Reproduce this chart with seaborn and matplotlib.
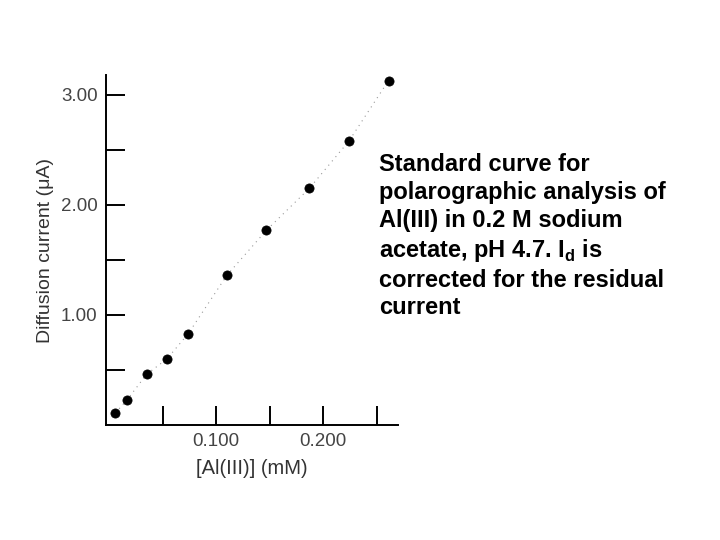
"""
plot.py — standard curve for polarographic analysis of Al(III).
"""
import matplotlib
matplotlib.use("Agg")
import matplotlib.pyplot as plt
import pandas as pd
import seaborn as sns

# Data
conc_mM = [0.006, 0.017, 0.035, 0.054, 0.074, 0.110, 0.147, 0.187, 0.224, 0.261]
current_uA = [0.11, 0.23, 0.46, 0.60, 0.83, 1.36, 1.77, 2.15, 2.58, 3.13]

x_ticks = [0.05, 0.10, 0.15, 0.20, 0.25]
x_tick_labels = ["", "0.100", "", "0.200", ""]
y_ticks = [0.5, 1.0, 1.5, 2.0, 2.5, 3.0]
y_tick_labels = ["", "1.00", "", "2.00", "", "3.00"]

caption = ("Standard curve for\n"
           "polarographic analysis of\n"
           "Al(III) in 0.2 M sodium\n"
           "acetate, pH 4.7. I$_\\mathregular{d}$ is\n"
           "corrected for the residual\n"
           "current")

df = pd.DataFrame({"conc": conc_mM, "current": current_uA})

sns.set_style("ticks")
plt.rcParams["font.family"] = ["Liberation Sans", "DejaVu Sans"]

fig = plt.figure(figsize=(7.2, 5.4), dpi=100)
ax = fig.add_axes([0.147, 0.213, 0.406, 0.648])

# faint dotted trend through the points
sns.lineplot(data=df, x="conc", y="current", ax=ax, color="#9a9a9a",
             linestyle=(0, (1, 4)), linewidth=0.8)
sns.scatterplot(data=df, x="conc", y="current", ax=ax, color="black",
                s=44, edgecolor="black", linewidth=0.5, zorder=3)

ax.set_xlim(-0.003, 0.270)
ax.set_ylim(0, 3.18)
ax.set_xticks(x_ticks)
ax.set_xticklabels(x_tick_labels)
ax.set_yticks(y_ticks)
ax.set_yticklabels(y_tick_labels)
ax.tick_params(axis="both", direction="in", length=14, width=1.4,
               labelsize=13.5, labelcolor="#444444", color="black", pad=6)
ax.tick_params(axis="x", pad=6)
sns.despine(ax=ax)
for side in ("left", "bottom"):
    ax.spines[side].set_linewidth(1.4)
    ax.spines[side].set_color("black")

ax.set_xlabel("[Al(III)] (mM)", fontsize=14.5, color="#333333", labelpad=6)
ax.set_ylabel("Diffusion current (\u03bcA)", fontsize=14, color="#333333",
              labelpad=5)

fig.text(0.527, 0.716, caption, fontsize=17, fontweight="bold",
         va="top", ha="left", linespacing=1.26, color="black")

fig.savefig("out.png", dpi=100)
plt.close(fig)
